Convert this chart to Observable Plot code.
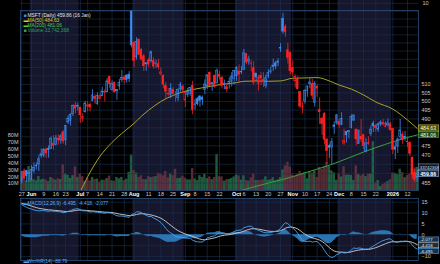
<!DOCTYPE html>
<html><head><meta charset="utf-8">
<script src="https://cdn.jsdelivr.net/npm/d3@7"></script>
<script src="https://cdn.jsdelivr.net/npm/@observablehq/plot@0.6"></script>
<style>
html,body{margin:0;padding:0;background:#000;}
#chart{position:relative;width:440px;height:264px;overflow:hidden;background:#000;}
#chart > svg{position:absolute;left:0;}
</style></head><body><div id="chart"></div><script>
// ---------- data (MSFT daily, 27 May 2025 – 16 Jan 2026) ----------
const openP = [456.0,461.2,461.5,459.7,457.1,461.5,464.0,464.8,469.5,469.7,
473.0,473.2,473.4,476.1,475.4,478.8,478.0,482.5,478.0,488.0,
489.0,492.9,497.6,497.0,496.5,490.1,493.8,497.1,498.0,500.3,
502.6,498.5,501.5,503.0,505.2,505.3,514.5,506.7,510.9,506.7,
508.8,512.5,514.1,515.2,515.5,555.2,535.0,526.2,537.0,530.7,
526.8,522.6,524.3,523.8,524.0,522.4,522.0,516.0,515.0,509.1,
504.3,503.8,506.6,502.0,502.0,507.1,508.6,500.5,503.8,504.3,
509.1,498.1,501.4,502.9,502.2,506.7,508.8,516.9,510.6,515.0,
510.6,515.6,513.8,510.4,508.3,510.1,511.5,513.2,514.8,517.6,
517.1,518.6,528.3,523.3,522.3,519.6,516.4,510.2,514.9,512.6,
509.0,514.6,517.5,521.2,522.5,522.8,531.8,550.0,544.9,530.5,
528.9,519.8,511.8,513.3,505.4,496.9,500.0,506.2,510.2,510.3,
499.2,508.4,495.1,490.1,493.0,478.5,475.0,474.1,486.3,487.6,
488.4,486.7,476.3,482.7,482.5,484.9,489.1,484.0,476.0,479.8,
480.9,471.9,476.4,481.5,487.4,486.1,484.0,486.8,486.9,485.5,
486.4,487.0,484.4,474.2,474.6,479.8,481.2,480.0,477.0,476.5,
468.5,460.5,458.0];
const highP = [461.0,462.5,461.7,461.7,464.3,465.7,465.7,469.6,473.3,473.4,
473.7,475.0,480.0,480.7,480.7,481.0,481.2,483.5,486.2,491.8,
493.0,498.0,499.3,499.0,496.5,493.0,500.1,500.0,499.0,506.8,
503.9,505.0,503.9,508.3,506.8,513.4,514.6,512.1,511.4,506.8,
513.0,518.3,515.0,515.5,517.6,555.5,536.0,538.2,537.4,531.7,
528.1,522.8,525.6,530.0,525.9,524.6,525.0,519.7,515.8,511.0,
507.6,510.5,508.2,505.7,507.3,511.1,509.6,506.0,507.8,508.2,
511.8,501.2,502.3,503.2,503.2,512.6,515.5,517.2,511.3,515.5,
519.3,517.7,514.6,512.5,510.0,513.9,516.9,518.2,520.5,521.6,
520.5,531.0,528.6,526.9,524.3,523.6,516.4,515.3,517.2,516.9,
515.5,518.7,520.2,525.2,523.8,525.4,534.6,553.7,546.3,534.9,
529.3,524.0,515.6,514.8,505.7,499.4,506.9,509.0,513.5,513.0,
511.7,509.6,502.1,491.0,493.5,478.9,476.0,479.0,488.3,492.6,
489.9,493.5,484.2,483.0,483.4,492.3,492.1,484.3,483.6,489.6,
480.9,479.0,480.0,486.0,488.7,486.9,487.8,489.0,489.8,488.5,
489.9,488.0,484.6,477.0,479.3,489.7,482.7,483.0,480.0,477.2,
469.0,463.0,461.8];
const lowP = [454.5,456.9,455.3,455.5,456.1,460.0,461.9,461.1,468.2,468.6,
468.2,468.3,473.0,472.6,475.0,475.4,475.9,475.9,475.1,486.8,
486.0,491.4,493.0,494.5,487.5,488.0,493.4,494.0,494.0,500.0,
498.5,497.8,501.0,502.8,499.7,505.2,507.7,506.0,505.0,500.7,
506.5,510.9,510.1,510.6,511.0,531.9,520.0,524.5,527.2,524.0,
517.6,517.7,519.9,522.7,519.2,519.5,518.5,515.0,507.4,501.3,
502.7,501.6,503.7,499.6,499.9,505.5,504.5,496.4,502.3,503.0,
492.4,495.0,497.5,496.7,497.7,503.9,507.0,508.6,505.9,507.7,
510.3,512.5,507.3,506.9,505.0,507.2,508.4,509.7,511.7,510.7,
515.8,518.2,521.6,521.4,517.4,509.5,511.7,506.0,509.5,508.1,
507.3,513.4,516.0,517.7,518.7,520.5,529.1,540.3,538.5,522.1,
515.5,514.6,507.8,506.6,495.8,493.0,498.5,502.4,507.5,501.0,
496.7,502.4,486.8,480.7,475.5,464.9,468.1,464.9,481.2,486.6,
484.7,486.3,475.2,476.5,478.9,484.4,488.5,475.1,475.7,476.8,
473.0,471.2,475.3,480.1,482.3,482.5,482.5,485.6,486.0,485.0,
485.4,483.3,470.2,467.5,470.8,477.9,475.8,477.5,474.0,469.0,
457.2,455.0,455.5];
const closeP = [460.7,457.4,458.7,460.4,462.0,463.0,463.9,467.7,470.4,472.8,
470.9,472.6,478.9,475.0,479.1,478.0,480.2,477.4,486.0,490.1,
492.3,497.5,495.9,497.4,492.1,491.1,498.8,497.7,496.6,503.5,
501.5,503.3,503.0,505.8,505.6,511.7,510.1,510.1,505.3,505.9,
510.9,513.7,512.5,512.6,513.2,533.5,524.1,535.6,527.8,524.9,
520.8,522.0,521.8,529.2,520.6,522.5,520.2,517.1,509.8,505.7,
504.2,507.2,504.3,502.0,506.7,509.6,506.7,505.1,505.4,508.0,
495.0,498.2,498.4,500.4,501.0,509.9,515.4,509.0,510.0,508.5,
517.9,514.5,509.2,510.2,507.0,511.5,514.6,518.0,519.7,515.7,
517.4,528.6,523.0,524.9,522.4,511.0,514.1,513.6,513.4,511.6,
513.6,516.8,517.7,520.5,520.6,523.6,531.5,542.1,541.6,525.8,
517.8,517.0,514.3,507.2,497.1,496.8,506.0,508.7,511.1,503.3,
510.2,507.5,493.8,487.1,478.4,472.1,474.0,477.0,485.5,492.0,
486.7,490.0,477.7,480.8,483.2,491.0,492.0,478.6,483.5,478.5,
474.8,476.4,476.1,484.0,485.9,484.9,486.9,488.0,487.7,487.1,
487.5,483.6,472.9,472.9,478.5,483.5,478.1,479.3,477.2,470.7,
459.4,456.7,459.9];
const volM = [20.0,17.1,13.9,35.0,16.6,15.7,14.2,20.2,15.3,16.5,
15.3,13.0,19.0,17.0,15.0,17.0,16.0,37.6,24.0,22.0,
17.5,21.6,34.5,19.0,24.0,20.0,13.0,18.0,14.0,19.0,
16.0,16.5,12.0,15.0,15.0,17.5,21.0,14.0,13.5,19.0,
17.0,19.0,14.3,16.5,26.4,51.6,28.9,25.3,19.1,21.4,
16.0,15.5,20.2,18.7,19.6,20.3,25.2,23.8,21.5,27.7,
18.4,24.3,21.6,30.8,17.3,18.0,20.9,18.1,15.5,15.5,
31.9,16.8,14.4,21.6,18.9,23.6,17.1,19.7,15.8,18.9,
52.5,20.0,19.8,13.5,15.8,16.0,17.6,19.7,22.6,21.2,
15.1,21.4,14.6,13.4,18.3,24.1,14.3,14.7,14.6,15.6,
19.9,14.7,15.6,18.7,14.0,15.5,18.7,29.9,36.0,41.0,
34.0,22.4,20.9,22.9,27.4,24.0,26.1,17.0,26.6,25.3,
28.5,19.1,33.8,30.9,34.7,40.7,34.7,28.6,25.7,14.9,
23.9,19.6,34.6,22.3,22.6,21.9,14.7,35.8,23.4,21.2,
23.4,20.2,23.6,24.4,70.8,10.9,14.6,5.9,8.8,10.9,
13.2,15.6,25.6,25.0,23.0,31.0,26.0,18.6,22.0,24.0,
32.0,31.0,33.7];

// moving averages (at weekly points)
const ma50Idx = [24,27,32,37,42,46,49,52,57,62,67,71,76,81,88,91,96,101,106,111,116,121,126,130,135,140,145,152,158,162];
const ma50Val = [450.5,458.3,469.2,476.9,483.0,487.5,491.5,495.0,500.0,503.5,506.0,507.2,508.5,509.8,511.0,511.8,512.0,511.8,512.0,513.6,513.8,514.0,512.0,509.6,507.2,503.8,499.7,495.6,489.4,484.63];
const ma200Idx = [88,91,96,101,106,111,116,121,126,130,135,140,145,152,158,162];
const ma200Val = [450.3,451.5,453.3,455.0,456.6,458.4,460.4,462.4,464.5,466.4,469.0,471.6,474.0,477.2,479.6,481.06];
// MACD starting state (EMA12, EMA26, signal)
const macdSeed = [451.5, 437.3, 14.6];

// axes
const tickIdx = [0,4,9,14,18,24,27,32,37,42,46,52,57,62,67,71,76,81,88,91,96,101,106,111,116,121,126,130,135,140,145,152,158];
const tickLbl = ["27","Jun","9","16","23","Jul","7","14","21","28","Aug","11","18","25","Sep","8","15","22","Oct","6","13","20","27","Nov","10","17","24","Dec","8","15","22","2026","12"];
const boldLbl = ["Jun","Jul","Aug","Sep","Oct","Nov","Dec","2026"];
const bandStart = [4,46,88,130];
const bandEnd = [23,66,110,151];
const priceGrid = [455,460,465,470,475,480,485,490,495,500,505,510,515,520,525,530,535,540,545,550,555];
const priceLabels = [455,470,475,490,495,500,505,510,515,520,525,530,535,540,545,550,555];
const volTicks = [10,20,30,40,50,60,70,80];
const macdGrid = [-10,-5,0,5,10,15];
const macdLabels = [-10,0,5,10,15];

// ---------- build ----------
const N = closeP.length;
const bars = closeP.map((c, i) => ({
  i, open: openP[i], high: highP[i], low: lowP[i], close: c, vol: volM[i],
  up: i === 0 ? true : c >= closeP[i - 1], hollow: c >= openP[i]
}));
const ma50 = ma50Idx.map((i, k) => ({i, v: ma50Val[k]}));
const ma200 = ma200Idx.map((i, k) => ({i, v: ma200Val[k]}));
let e12 = macdSeed[0], e26 = macdSeed[1], sg = macdSeed[2];
const macd = closeP.map((c, i) => {
  e12 += (c - e12) * 2 / 13; e26 += (c - e26) * 2 / 27;
  const m = e12 - e26; sg += (m - sg) * 2 / 10;
  return {i, m, s: sg, h: m - sg};
});
const bands = bandStart.map((s, k) => ({x1: s - 0.5, x2: bandEnd[k] + 0.5}));
const lblOf = new Map(tickIdx.map((t, k) => [t, tickLbl[k]]));
const boldTicks = tickIdx.filter(t => boldLbl.includes(lblOf.get(t)));
const normTicks = tickIdx.filter(t => !boldLbl.includes(lblOf.get(t)));

const FONT = "'Liberation Sans', Arial, sans-serif";
const BAND = "#16162c", GRID = "#1b3352", FRAME = "#2a4c78";
const BLUE = "#3d8cf2", RED = "#ff2222", TXT = "#c9c9c9";
const W = 440, ML = 20, MR = 22;
const X = {domain: [-0.5, N - 0.5], axis: null};
const base = {width: W, marginLeft: ML, marginRight: MR,
  style: {background: "transparent", fontFamily: FONT, fontSize: "5.5px", color: TXT, overflow: "visible"}};
const root = document.getElementById("chart");
function put(svg, top) { svg.style.top = top + "px"; root.appendChild(svg); }

// top stub of the panel above
put(Plot.plot({...base, height: 10, marginTop: 0, marginBottom: 0, x: X,
  y: {domain: [0, 14], axis: null},
  marks: [
    Plot.rect(bands, {x1: "x1", x2: "x2", fill: BAND}),
    Plot.ruleX(tickIdx, {stroke: GRID, strokeWidth: 0.6}),
    Plot.ruleY([10], {stroke: GRID, strokeWidth: 0.6}),
    Plot.axisY([10], {anchor: "right", tickSize: 0, tickPadding: 4, fontSize: 5.5, fill: TXT, label: null})
  ]}), 0);

// background + volume layer
put(Plot.plot({...base, height: 198, marginTop: 10, marginBottom: 8, x: X,
  y: {domain: [0, 262], axis: null},
  marks: [
    Plot.rect(bands, {x1: "x1", x2: "x2", fill: BAND}),
    Plot.ruleX(tickIdx, {stroke: GRID, strokeWidth: 0.6}),
    Plot.rectY(bars, {x1: d => d.i - 0.5, x2: d => d.i + 0.5, y: "vol",
      fill: d => d.up ? "#2a7852" : "#763a46", fillOpacity: 0.75}),
    Plot.axisY(volTicks, {anchor: "left", tickSize: 0, tickPadding: 2, tickFormat: d => d + "M", fontSize: 5.5, fill: TXT, label: null})
  ]}), 0);

// price layer
const pricePlot = Plot.plot({...base, height: 198, marginTop: 10, marginBottom: 8, x: X,
  y: {type: "log", domain: [451.1, 555.45], axis: null},
  marks: [
    Plot.ruleY(priceGrid, {stroke: GRID, strokeWidth: 0.6}),
    Plot.line(ma50, {x: "i", y: "v", stroke: "#a9a227", strokeWidth: 1, curve: "monotone-x", clip: true}),
    Plot.line(ma200, {x: "i", y: "v", stroke: "#3aa23a", strokeWidth: 1, curve: "monotone-x", clip: true}),
    Plot.ruleX(bars, {x: "i", y1: "low", y2: "high", stroke: d => d.up ? BLUE : RED, strokeWidth: 0.8}),
    Plot.rect(bars, {x1: d => d.i - 0.36, x2: d => d.i + 0.36, y1: "open", y2: "close",
      fill: d => d.up ? BLUE : RED, fillOpacity: d => d.hollow ? 0 : 1,
      stroke: d => d.up ? BLUE : RED, strokeWidth: 0.6}),
    Plot.frame({stroke: FRAME, strokeWidth: 0.8}),
    Plot.axisY(priceLabels, {anchor: "right", tickSize: 0, tickPadding: 3, fontSize: 5.5, fill: TXT, label: null}),
    Plot.axisX(normTicks, {anchor: "bottom", tickSize: 0, tickPadding: 1.5, tickFormat: d => lblOf.get(d), fontSize: 5.5, fill: TXT, label: null}),
    Plot.axisX(boldTicks, {anchor: "bottom", tickSize: 0, tickPadding: 1.5, tickFormat: d => lblOf.get(d), fontSize: 5.5, fontWeight: "bold", fill: "#ffffff", label: null}),
    // legend
    Plot.text(["■"], {frameAnchor: "top-left", dx: 3, dy: 3.3, fill: BLUE, fontSize: 5}),
    Plot.text(["MSFT (Daily) 459.86 (16 Jan)"], {frameAnchor: "top-left", dx: 7, dy: 3.3, textAnchor: "start", fill: "#e6e6e6", fontSize: 4.8}),
    Plot.text(["▬"], {frameAnchor: "top-left", dx: 3, dy: 8.3, fill: "#d6cf2a", fontSize: 5}),
    Plot.text(["MA(50) 484.63"], {frameAnchor: "top-left", dx: 7, dy: 8.3, textAnchor: "start", fill: "#d6cf2a", fontSize: 4.8}),
    Plot.text(["▬"], {frameAnchor: "top-left", dx: 3, dy: 13.3, fill: "#4cc84c", fontSize: 5}),
    Plot.text(["MA(200) 481.06"], {frameAnchor: "top-left", dx: 7, dy: 13.3, textAnchor: "start", fill: "#4cc84c", fontSize: 4.8}),
    Plot.text(["■"], {frameAnchor: "top-left", dx: 3, dy: 18.3, fill: "#2fa36a", fontSize: 5}),
    Plot.text(["Volume 33,742,368"], {frameAnchor: "top-left", dx: 7, dy: 18.3, textAnchor: "start", fill: "#2fa36a", fontSize: 4.8}),
    // value boxes
    Plot.rect([484.63], {x1: N - 0.35, x2: N + 8, y1: d => d / 1.0036, y2: d => d * 1.0036, fill: "#4a4712", stroke: "#c8c032", strokeWidth: 0.6}),
    Plot.text([484.63], {x: N + 0.2, y: d => d, text: d => d.toFixed(2), textAnchor: "start", fill: "#ffffd0", fontSize: 5.2}),
    Plot.rect([481.06], {x1: N - 0.35, x2: N + 8, y1: d => d / 1.0036, y2: d => d * 1.0036, fill: "#1c4a1c", stroke: "#56b046", strokeWidth: 0.6}),
    Plot.text([481.06], {x: N + 0.2, y: d => d, dy: 0.6, text: d => d.toFixed(2), textAnchor: "start", fill: "#e6ffe6", fontSize: 5.2}),
    Plot.rect([459.86], {x1: N - 0.35, x2: N + 8, y1: d => d / 1.0038, y2: d => d * 1.0038, fill: "#0f2e58", stroke: "#9fb4d4", strokeWidth: 0.6}),
    Plot.text([459.86], {x: N + 0.2, y: d => d, text: d => d.toFixed(2), textAnchor: "start", fill: "#ffffff", fontWeight: "bold", fontSize: 5.2})
  ]});
put(pricePlot, 0);

// volume value box on top
put(Plot.plot({...base, height: 198, marginTop: 10, marginBottom: 8, x: X,
  y: {domain: [0, 262], axis: null},
  marks: [
    Plot.rect([33.742368], {x1: N - 0.35, x2: N + 8, y1: d => d - 4.2, y2: d => d + 4.2, fill: "#0b1828", stroke: "#7e96b4", strokeWidth: 0.6}),
    Plot.text([33.742368], {x: N + 0.05, y: d => d, text: d => Math.round(d * 1e6) + "", textAnchor: "start", fill: "#d6dde6", fontSize: 4.3})
  ]}), 0);

// MACD panel
put(Plot.plot({...base, height: 66, marginTop: 0, marginBottom: 4, x: X,
  y: {domain: [-11.8, 16.7], axis: null},
  marks: [
    Plot.rect(bands, {x1: "x1", x2: "x2", fill: BAND}),
    Plot.ruleX(tickIdx, {stroke: GRID, strokeWidth: 0.6}),
    Plot.ruleY(macdGrid, {stroke: GRID, strokeWidth: 0.6}),
    Plot.areaY(macd, {x: "i", y: "h", fill: "#2f7fc4", fillOpacity: 0.9}),
    Plot.line(macd, {x: "i", y: "s", stroke: "#d4d4d4", strokeWidth: 0.9}),
    Plot.line(macd, {x: "i", y: "m", stroke: "#4aa6f5", strokeWidth: 0.9}),
    Plot.frame({stroke: FRAME, strokeWidth: 0.8}),
    Plot.axisY(macdLabels, {anchor: "right", tickSize: 0, tickPadding: 3, fontSize: 5.5, fill: TXT, label: null}),
    Plot.text(["▬"], {frameAnchor: "top-left", dx: 3, dy: 2.8, fill: "#4aa6f5", fontSize: 5}),
    Plot.text(["MACD(12,26,9) -6.495, -4.418, -2.077"], {frameAnchor: "top-left", dx: 7, dy: 2.8, textAnchor: "start", fill: "#5ab0ff", fontSize: 4.8}),
    Plot.text(["▬"], {frameAnchor: "bottom-left", dx: 3, dy: 2.2, fill: "#4aa6f5", fontSize: 5}),
    Plot.text(["Wm%R(14) -88.79"], {frameAnchor: "bottom-left", dx: 7, dy: 2.2, textAnchor: "start", fill: "#5ab0ff", fontSize: 4.8}),
    Plot.rect([-2.077], {x1: N - 0.35, x2: N + 8, y1: d => d - 1.15, y2: d => d + 1.15, dy: 0.6, fill: "#18324e", stroke: "#4aa6f5", strokeWidth: 0.6}),
    Plot.text([-2.077], {x: N + 0.2, y: d => d, dy: 0.6, text: d => d.toFixed(3), textAnchor: "start", fill: "#e8f0ff", fontSize: 4.4}),
    Plot.rect([-4.418], {x1: N - 0.35, x2: N + 8, y1: d => d - 1.15, y2: d => d + 1.15, dy: 1.3, fill: "#2a2a2a", stroke: "#bdbdbd", strokeWidth: 0.6}),
    Plot.text([-4.418], {x: N + 0.2, y: d => d, dy: 1.3, text: d => d.toFixed(3), textAnchor: "start", fill: "#f0f0f0", fontSize: 4.4}),
    Plot.rect([-6.495], {x1: N - 0.35, x2: N + 8, y1: d => d - 1.15, y2: d => d + 1.15, dy: 2.4, fill: "#18324e", stroke: "#4aa6f5", strokeWidth: 0.6}),
    Plot.text([-6.495], {x: N + 0.2, y: d => d, dy: 2.4, text: d => d.toFixed(3), textAnchor: "start", fill: "#e8f0ff", fontSize: 4.4})
  ]}), 198);
</script></body></html>
